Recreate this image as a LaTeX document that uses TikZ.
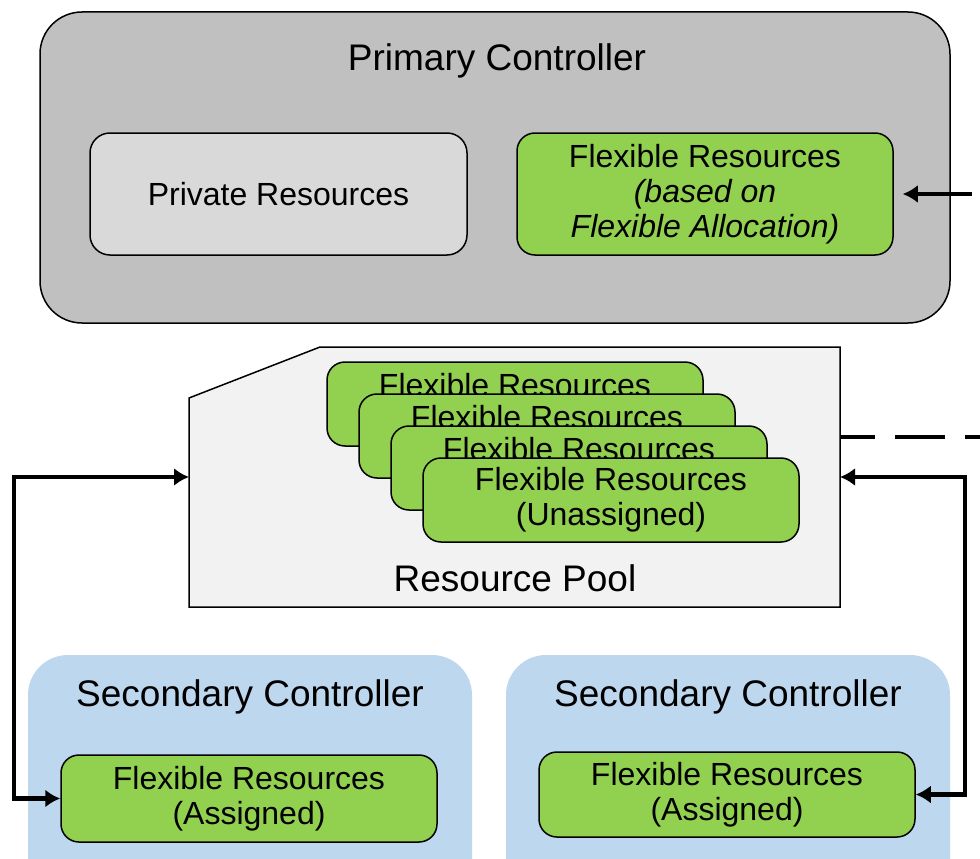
\documentclass[tikz,border=0pt]{standalone}
\usepackage{fontspec}
\setmainfont{Liberation Sans}
\usetikzlibrary{arrows.meta}

\definecolor{ctrlgray}{HTML}{C0C0C0}
\definecolor{privgray}{HTML}{D9D9D9}
\definecolor{flexgreen}{HTML}{92D050}
\definecolor{poolgray}{HTML}{F2F2F2}
\definecolor{secblue}{HTML}{BDD7EE}

\tikzset{
    titletext/.style={font=\fontsize{37}{42}\selectfont},
    boxtext/.style={font=\fontsize{32}{35}\selectfont, align=center},
    flexbox/.style={boxtext, draw=black, line width=1.5pt, fill=flexgreen, rounded corners=18pt,
        minimum width=376pt, minimum height=85pt, inner sep=0pt},
    arrowline/.style={line width=4.5pt, -{Latex[length=15pt,width=18pt]}},
}

\begin{document}
\begin{tikzpicture}[x=1pt,y=-1pt]

    \useasboundingbox (0,0) rectangle (980,859);
    \clip (0,0) rectangle (980,859);

    % primary controller
    \node[draw=black, line width=1.5pt, fill=ctrlgray, rounded corners=42pt, minimum width=910pt, minimum height=311pt] (primary) at (495,167.5) {};
    \node[titletext] (primarytitle) at (497,61) {Primary Controller};
    \node[boxtext, draw=black, line width=1.5pt, fill=privgray, rounded corners=20pt, minimum width=377pt, minimum height=122pt] (private) at (278.5,194) {Private Resources};
    \node[flexbox, minimum height=122pt] (flextop) at (705,194) {Flexible Resources\\\textit{(based on}\\\textit{Flexible Allocation)}};
    \coordinate (topin) at (972,194);
    \draw[arrowline] (topin) -- ([xshift=9pt]flextop.east);

    % resource pool
    \node[inner sep=0pt, outer sep=0pt, minimum width=651pt, minimum height=260pt] (pool) at (514.5,477) {};
    \draw[line width=1.5pt, fill=poolgray] ([yshift=-51pt]pool.north west) -- ([xshift=131pt]pool.north west) -- (pool.north east) -- (pool.south east) -- (pool.south west) -- cycle;
    \foreach \i in {0,...,2}{
        \node[flexbox, minimum height=84pt] (unassigned\i) at (515+32*\i,404+32*\i) {};
        \node[boxtext, inner sep=0pt] (unassignedtext\i) at ([yshift=-24pt]unassigned\i.north) {Flexible Resources};
    }
    \node[flexbox, minimum height=84pt] (unassigned3) at (611,500) {Flexible Resources\\(Unassigned)};
    \node[titletext] (pooltitle) at (515,578) {Resource Pool};
    \coordinate (dashend) at (980,437);
    \draw[line width=4.5pt, dash pattern=on 50pt off 20pt, dash phase=15pt] ([yshift=40pt]pool.east) -- (dashend);

    % secondary controllers
    \node[fill=secblue, rounded corners=40pt, minimum width=444pt, minimum height=245pt] (secleft) at (250,777.5) {};
    \node[titletext] (seclefttitle) at (250,697) {Secondary Controller};
    \node[flexbox, minimum height=87pt] (assignedleft) at (249,798.5) {Flexible Resources\\(Assigned)};

    \node[fill=secblue, rounded corners=40pt, minimum width=444pt, minimum height=245pt] (secright) at (728,777.5) {};
    \node[titletext] (secrighttitle) at (728,697) {Secondary Controller};
    \node[flexbox] (assignedright) at (727,794.5) {Flexible Resources\\(Assigned)};

    % links to the pool
    \coordinate (leftbend) at (14,477);
    \coordinate (rightbend) at (965,477);
    \draw[arrowline, {Latex[length=15pt,width=18pt]}-{Latex[length=15pt,width=18pt]}] (pool.west) -- (leftbend) |- (assignedleft.west);
    \draw[arrowline, {Latex[length=15pt,width=18pt]}-{Latex[length=15pt,width=18pt]}] (pool.east) -- (rightbend) |- (assignedright.east);

\end{tikzpicture}
\end{document}
